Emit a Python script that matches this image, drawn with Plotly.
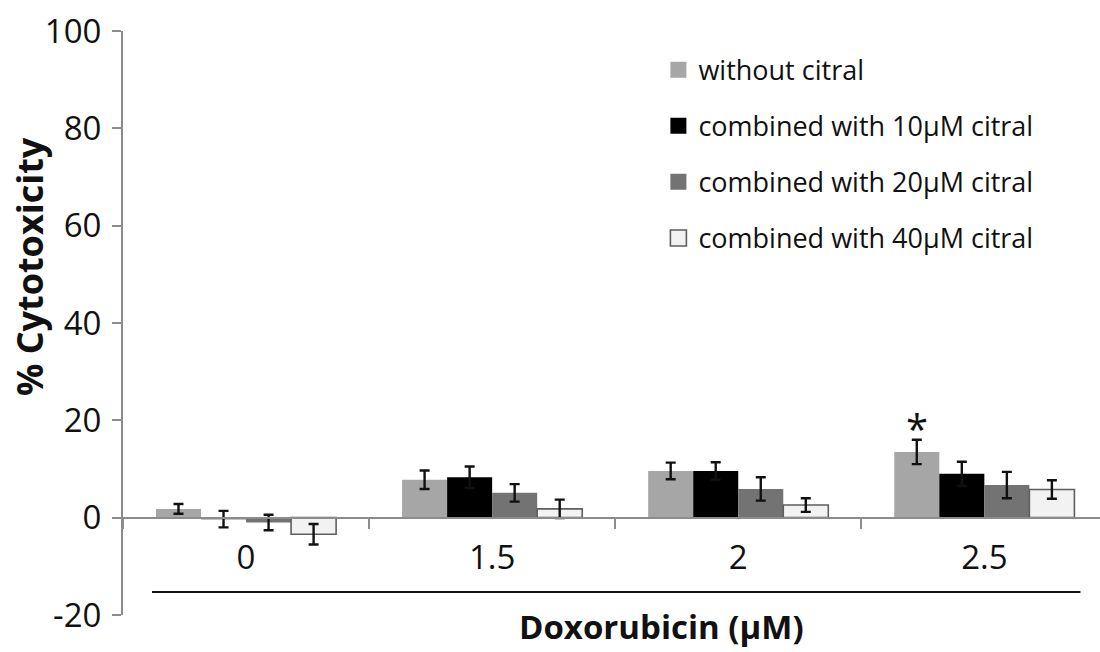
import plotly.graph_objects as go

# Doxorubicin doses (µM) on the category axis
doses = ["0", "1.5", "2", "2.5"]

# Mean % cytotoxicity and error per treatment
without_citral = [1.8, 7.8, 9.6, 13.5]
without_citral_err = [1.0, 1.9, 1.7, 2.5]

citral_10 = [-0.3, 8.3, 9.6, 9.0]
citral_10_err = [1.7, 2.2, 1.8, 2.5]

citral_20 = [-1.0, 5.1, 5.9, 6.7]
citral_20_err = [1.6, 1.8, 2.4, 2.7]

citral_40 = [-3.4, 1.8, 2.6, 5.8]
citral_40_err = [2.1, 1.9, 1.4, 1.9]

series_names = [
    "without citral",
    "combined with 10µM citral",
    "combined with 20µM citral",
    "combined with 40µM citral",
]

y_ticks = [-20, 0, 20, 40, 60, 80, 100]
y_tick_text = ["-20", "0", "20", "40", "60", "80", "100"]

FONT = "Open Sans"
AXIS_GREY = "#8c8c8c"
BARGAP = 0.268
Y_MIN, Y_MAX = -20, 100

styles = [
    dict(fill="#a6a6a6", line="#a6a6a6", lw=0),
    dict(fill="#000000", line="#000000", lw=0),
    dict(fill="#737373", line="#737373", lw=0),
    dict(fill="#f2f2f2", line="#5e5e5e", lw=1.6),
]
values = [without_citral, citral_10, citral_20, citral_40]
errors = [without_citral_err, citral_10_err, citral_20_err, citral_40_err]

fig = go.Figure()

for name, vals, errs, st in zip(series_names, values, errors, styles):
    fig.add_trace(go.Bar(
        x=doses, y=vals, name=name, showlegend=False,
        marker=dict(color=st["fill"], line=dict(color=st["line"], width=st["lw"])),
        error_y=dict(type="data", array=errs, visible=True,
                     color="#111111", thickness=2.4, width=5),
    ))

# Legend entries with larger square swatches
for i, (name, st) in enumerate(zip(series_names, styles)):
    fig.add_trace(go.Scatter(
        x=[None], y=[None], mode="markers", name=name,
        legendgroup=f"g{i}",
        marker=dict(symbol="square", size=17, color=st["fill"],
                    line=dict(color=st["line"], width=1.6 if st["lw"] else 0)),
    ))

# Significance mark above the "without citral" bar at the highest dose
bar_w = (1 - BARGAP) / len(series_names)
star_x = doses.index("2.5") - 1.5 * bar_w
star_y = without_citral[3] + without_citral_err[3]
fig.add_annotation(x=star_x, y=star_y, xref="x", yref="y", text="*",
                   showarrow=False, yanchor="bottom", yshift=-18,
                   font=dict(family=FONT, size=40, color="#111111"))

# Axis titles
fig.add_annotation(x=0.551, y=-0.062, xref="paper", yref="paper",
                   text="<b>Doxorubicin (µM)</b>", showarrow=False,
                   xanchor="center", yanchor="bottom",
                   font=dict(family=FONT, size=33, color="#111111"))
fig.add_annotation(x=-0.095, y=0.596, xref="paper", yref="paper",
                   text="<b>% Cytotoxicity</b>", showarrow=False, textangle=-90,
                   xanchor="center", yanchor="middle",
                   font=dict(family=FONT, size=36, color="#111111"))

# Rule under the dose labels
fig.add_shape(type="line", xref="paper", yref="paper",
              x0=0.0297, x1=0.98, y0=0.0395, y1=0.0395,
              line=dict(color="#111111", width=2))

zero_pos = (0 - Y_MIN) / (Y_MAX - Y_MIN)

fig.update_layout(
    width=1100, height=652,
    margin=dict(l=123, r=0, t=31, b=37),
    paper_bgcolor="white", plot_bgcolor="white",
    barmode="group", bargap=BARGAP, bargroupgap=0,
    font=dict(family=FONT, color="#111111"),
    legend=dict(x=0.548, y=0.975, xanchor="left", yanchor="top",
                font=dict(family=FONT, size=27, color="#111111"),
                tracegroupgap=18, bgcolor="rgba(0,0,0,0)"),
    xaxis=dict(
        type="category", range=[-0.5, 3.47],
        anchor="free", position=zero_pos,
        showline=True, linecolor=AXIS_GREY, linewidth=2,
        ticks="outside", tickson="boundaries", ticklen=10,
        tickwidth=2, tickcolor=AXIS_GREY,
        showgrid=False, zeroline=False,
        tickfont=dict(family=FONT, size=33, color="#111111"),
        ticklabelstandoff=11,
    ),
    yaxis=dict(
        range=[Y_MIN, Y_MAX], tickvals=y_ticks, ticktext=y_tick_text,
        showline=True, linecolor=AXIS_GREY, linewidth=2,
        ticks="outside", ticklen=9, tickwidth=2, tickcolor=AXIS_GREY,
        showgrid=False, zeroline=False,
        tickfont=dict(family=FONT, size=33, color="#111111"),
        ticklabelstandoff=4,
    ),
)

fig.write_html("out.html")
